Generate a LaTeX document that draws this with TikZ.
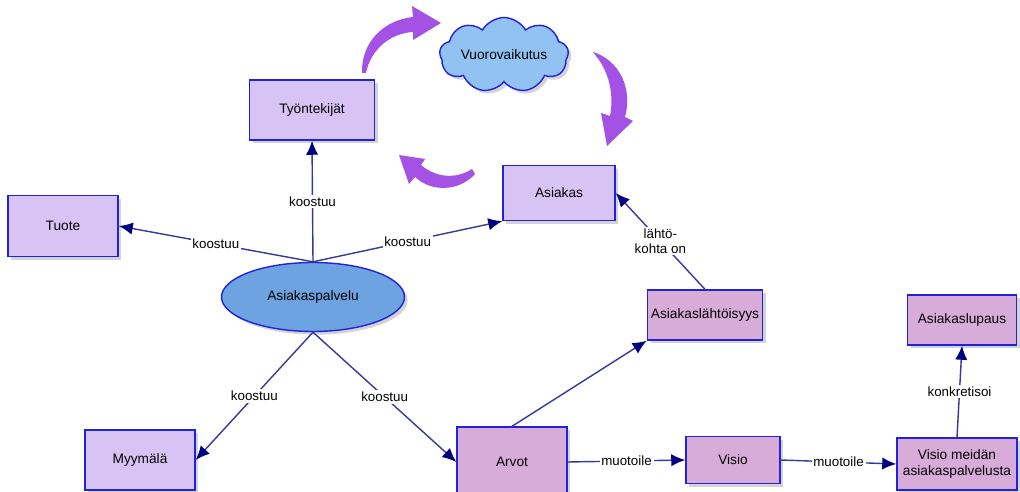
\documentclass[tikz,border=0pt]{standalone}
\usepackage{fontspec}
\setmainfont{Liberation Sans}
\usetikzlibrary{arrows.meta,shapes.geometric,shapes.symbols,shadows}
\definecolor{lila}{RGB}{216,196,244}
\definecolor{roosa}{RGB}{216,172,216}
\definecolor{reuna}{RGB}{34,34,221}
\definecolor{pallo}{RGB}{108,163,224}
\definecolor{pilvi}{RGB}{146,194,242}
\definecolor{violetti}{RGB}{164,82,230}
\definecolor{viiva}{RGB}{56,56,154}
\definecolor{karki}{RGB}{0,0,128}
\tikzset{
  kasite/.style={draw=reuna, line width=0.8pt, inner sep=2pt, align=center,
    drop shadow={shadow xshift=1.8pt, shadow yshift=-1.8pt, opacity=0.35}},
  laatikko/.style={kasite, rectangle, fill=lila},
  arvolaatikko/.style={kasite, rectangle, fill=roosa},
  yhteys/.style={draw=viiva, line width=0.8pt, -{Latex[length=8pt,width=7pt,fill=karki,color=karki]}},
  selite/.style={fill=white, inner sep=1pt, align=center, font=\fontsize{7.6}{8.4}\selectfont},
  kaari/.style={fill=violetti, draw=none}
}
\begin{document}
\begin{tikzpicture}[x=0.02cm, y=-0.02cm, font=\fontsize{7.8}{9}\selectfont]
        \useasboundingbox (0,0) rectangle (1020,492);
        % kaaret
        \fill[kaari] (362,73) .. controls (361,42) and (384,20) .. (413,17) -- (412,6) -- (441,23)
            -- (413,40) -- (413,32) .. controls (392,33) and (371,48) .. (366,73) -- cycle;
        \fill[kaari] (593,52) .. controls (619,60) and (633,88) .. (625,117) -- (633,121) -- (607,146)
            -- (601,113) -- (610,116) .. controls (615,90) and (606,68) .. (596,56) -- cycle;
        \fill[kaari] (472,169) .. controls (455,180) and (435,177) .. (421,165) -- (425,159) -- (399,155)
            -- (409,184) -- (415,177) .. controls (432,193) and (460,191) .. (475,174) -- cycle;
        % kasitteet
        \draw (312,110) node[laatikko, minimum width=2.5cm, minimum height=1.2cm, name=tyo]{Työntekijät};
        \draw (504,55) node[kasite, cloud, cloud puffs=9, cloud puff arc=120, cloud ignores aspect,
            fill=pilvi, minimum width=2.5cm, minimum height=1.5cm, name=vuoro]{Vuorovaikutus};
        \draw (559,193) node[laatikko, minimum width=2.24cm, minimum height=1.1cm, name=asiakas]{Asiakas};
        \draw (63,226) node[laatikko, minimum width=2.2cm, minimum height=1.22cm, name=tuote]{Tuote};
        \draw (313,297) node[kasite, ellipse, fill=pallo, minimum width=3.66cm, minimum height=1.38cm, name=ap]{Asiakaspalvelu};
        \draw (140,460) node[laatikko, minimum width=2.2cm, minimum height=1.2cm, name=myymala]{Myymälä};
        \draw (705,315) node[arvolaatikko, minimum width=2.3cm, minimum height=1.0cm, name=lahto]{Asiakaslähtöisyys};
        \draw (962,320) node[arvolaatikko, minimum width=2.18cm, minimum height=1.0cm, name=lupaus]{Asiakaslupaus};
        \draw (512,462) node[arvolaatikko, minimum width=2.2cm, minimum height=1.4cm, name=arvot]{Arvot};
        \draw (733,460) node[arvolaatikko, minimum width=1.88cm, minimum height=0.94cm, name=visio]{Visio};
        \draw (957,464) node[arvolaatikko, minimum width=2.4cm, minimum height=1.04cm, name=visiom]{Visio meidän\\asiakaspalvelusta};
        % yhteydet
        \draw[yhteys] (ap.north) -- node[selite]{koostuu} (tyo.south);
        \draw[yhteys] (ap.north) -- node[selite]{koostuu} (tuote.east);
        \draw[yhteys] (ap.north) -- node[selite]{koostuu} (asiakas.south west);
        \draw[yhteys] (ap.south) -- node[selite]{koostuu} (myymala.east);
        \draw[yhteys] (ap.south) -- node[selite]{koostuu} (arvot.west);
        \draw[yhteys] (arvot.north) -- (lahto.south west);
        \draw[yhteys] (lahto.north) -- node[selite]{lähtö-\\kohta on} (asiakas.east);
        \draw[yhteys] (arvot.east) -- node[selite]{muotoile} (visio.west);
        \draw[yhteys] (visio.east) -- node[selite]{muotoile} (visiom.west);
        \draw[yhteys] (visiom.north) -- node[selite]{konkretisoi} (lupaus.south);
    \end{tikzpicture}
\end{document}
